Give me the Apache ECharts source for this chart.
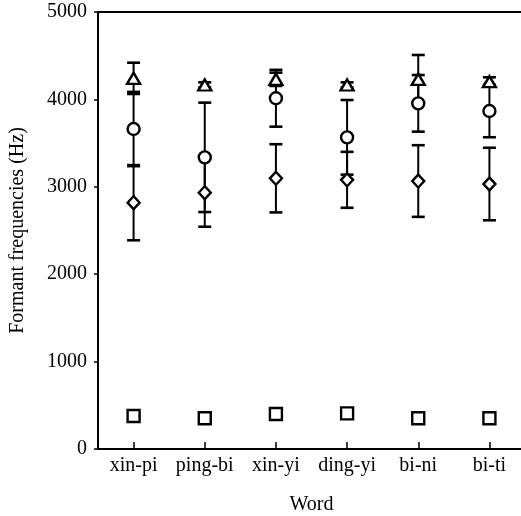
<!DOCTYPE html>
<html><head><meta charset="utf-8">
<script src="https://cdn.jsdelivr.net/npm/echarts@6/dist/echarts.min.js"></script>
<style>html,body{margin:0;padding:0;background:#fff}#c{width:521px;height:516px}</style>
</head><body><div id="c"></div>
<script>
const categories = ['xin-pi', 'ping-bi', 'xin-yi', 'ding-yi', 'bi-ni', 'bi-ti'];
const yTicks = [0, 1000, 2000, 3000, 4000, 5000];
// F1 (squares)
const f1Mean = [378, 351, 400, 408, 351, 351];
const f1Sd   = [20, 20, 20, 20, 20, 20];
// F2 (diamonds)
const f2Mean = [2818, 2933, 3097, 3080, 3066, 3032];
const f2Sd   = [430, 390, 390, 320, 410, 415];
// F3 (circles)
const f3Mean = [3661, 3337, 4013, 3566, 3955, 3867];
const f3Sd   = [425, 626, 325, 427, 324, 300];
// F4 (triangles)
const f4Mean = [4241, 4165, 4230, 4165, 4230, 4203];
const f4Sd   = [179, 30, 76, 30, 278, 50];

const FONT = 'Liberation Serif';
const chart = echarts.init(document.getElementById('c'), null, {renderer: 'canvas'});

function errData(mean, sd) { return mean.map((m, i) => [i, m, sd[i]]); }
function renderErr(params, api) {
  const x = api.value(0), m = api.value(1), s = api.value(2);
  const top = api.coord([x, m + s]);
  const bot = api.coord([x, m - s]);
  const hw = 6.5;
  const v = {stroke: '#000', lineWidth: 2};
  const c = {stroke: '#000', lineWidth: 2.6};
  return {type: 'group', children: [
    {type: 'line', shape: {x1: top[0], y1: top[1], x2: bot[0], y2: bot[1]}, style: v},
    {type: 'line', shape: {x1: top[0] - hw, y1: top[1], x2: top[0] + hw, y2: top[1]}, style: c},
    {type: 'line', shape: {x1: bot[0] - hw, y1: bot[1], x2: bot[0] + hw, y2: bot[1]}, style: c}
  ]};
}
function errSeries(mean, sd) {
  return {type: 'custom', renderItem: renderErr, data: errData(mean, sd), z: 1,
    encode: {x: 0, y: 1}, silent: true};
}
function markSeries(mean, symbol, size) {
  return {type: 'scatter', data: mean, symbol: symbol, symbolSize: size, z: 5,
    itemStyle: {color: '#fff', borderColor: '#000', borderWidth: 2.4, opacity: 1}};
}

chart.setOption({
  animation: false,
  backgroundColor: '#fff',
  grid: {left: 98, width: 427, top: 12, bottom: 67, show: false, containLabel: false, outerBoundsMode: 'none'},
  xAxis: [{
    type: 'category', data: categories, boundaryGap: true,
    name: 'Word', nameLocation: 'middle', nameGap: 46,
    nameTextStyle: {fontFamily: FONT, fontSize: 20, color: '#000'},
    axisLine: {show: true, lineStyle: {color: '#000', width: 2}},
    axisTick: {show: true, inside: true, length: 7, alignWithLabel: true, lineStyle: {color: '#000', width: 1.5}},
    axisLabel: {fontFamily: FONT, fontSize: 20, color: '#000', margin: 7, interval: 0, hideOverlap: false},
    splitLine: {show: false}
  }, {
    type: 'category', data: categories, boundaryGap: true, position: 'top',
    axisLine: {show: true, lineStyle: {color: '#000', width: 2}},
    axisTick: {show: false}, axisLabel: {show: false}, splitLine: {show: false}
  }],
  yAxis: {
    type: 'value', min: yTicks[0], max: yTicks[yTicks.length - 1], interval: 1000,
    name: 'Formant frequencies (Hz)', nameLocation: 'middle', nameGap: 70,
    nameTextStyle: {fontFamily: FONT, fontSize: 20, color: '#000'},
    axisLine: {show: true, lineStyle: {color: '#000', width: 2}},
    axisTick: {show: true, inside: false, length: 4, lineStyle: {color: '#000', width: 1.5}},
    axisLabel: {fontFamily: FONT, fontSize: 20, color: '#000', margin: 11, formatter: v => String(v)},
    splitLine: {show: false}
  },
  series: [
    errSeries(f1Mean, f1Sd),
    errSeries(f2Mean, f2Sd),
    errSeries(f3Mean, f3Sd),
    errSeries(f4Mean, f4Sd),
    markSeries(f1Mean, 'rect', 12),
    markSeries(f2Mean, 'diamond', [12, 13]),
    markSeries(f3Mean, 'circle', 12),
    markSeries(f4Mean, 'triangle', [13, 11])
  ]
});
</script>
</body></html>
